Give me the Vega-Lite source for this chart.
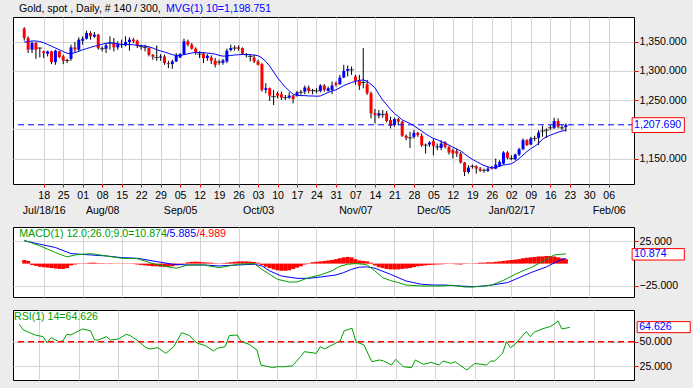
{
"$schema": "https://vega.github.io/schema/vega-lite/v6.json",
"background": "#ececec",
"padding": {"left": 11, "top": 3, "right": 5, "bottom": 8},
"spacing": 9,
"config": {
  "view": {"fill": "#ffffff", "stroke": "#000000", "strokeWidth": 1},
  "axis": {"labelFont": "Liberation Sans", "labelFontSize": 10.6, "labelColor": "#000000", "tickColor": "#ff0000", "gridColor": "#d4d4d4", "gridWidth": 1, "domain": false},
  "text": {"font": "Liberation Sans", "fontSize": 10.6}
},
"datasets": {
"ohlc": [
{"i":0,"o":1372.2,"h":1374.5,"l":1351.5,"c":1356.1},
{"i":1,"o":1356.1,"h":1359.0,"l":1330.4,"c":1336.1},
{"i":2,"o":1336.1,"h":1350.4,"l":1330.4,"c":1347.5},
{"i":3,"o":1347.5,"h":1349.3,"l":1320.6,"c":1336.1},
{"i":4,"o":1338.9,"h":1340.1,"l":1322.9,"c":1338.9},
{"i":5,"o":1333.2,"h":1334.4,"l":1321.8,"c":1330.4},
{"i":6,"o":1329.2,"h":1334.4,"l":1324.6,"c":1333.2},
{"i":7,"o":1333.2,"h":1334.4,"l":1311.5,"c":1314.9},
{"i":8,"o":1314.9,"h":1336.1,"l":1310.3,"c":1334.4},
{"i":9,"o":1333.2,"h":1334.4,"l":1321.8,"c":1323.5},
{"i":10,"o":1324.6,"h":1327.5,"l":1311.5,"c":1317.8},
{"i":11,"o":1317.8,"h":1320.6,"l":1313.2,"c":1317.8},
{"i":12,"o":1320.6,"h":1344.7,"l":1317.2,"c":1340.1},
{"i":13,"o":1340.1,"h":1349.3,"l":1332.1,"c":1336.7},
{"i":14,"o":1336.1,"h":1357.3,"l":1333.2,"c":1353.3},
{"i":15,"o":1351.5,"h":1359.0,"l":1344.7,"c":1355.0},
{"i":16,"o":1355.0,"h":1368.7,"l":1353.3,"c":1364.7},
{"i":17,"o":1364.7,"h":1367.6,"l":1353.3,"c":1359.0},
{"i":18,"o":1358.4,"h":1366.4,"l":1356.1,"c":1361.9},
{"i":19,"o":1361.9,"h":1363.0,"l":1336.1,"c":1338.9},
{"i":20,"o":1337.8,"h":1341.8,"l":1333.2,"c":1337.8},
{"i":21,"o":1337.8,"h":1347.5,"l":1330.4,"c":1343.5},
{"i":22,"o":1347.5,"h":1359.0,"l":1336.1,"c":1347.5},
{"i":23,"o":1347.5,"h":1356.1,"l":1333.2,"c":1340.1},
{"i":24,"o":1340.1,"h":1350.4,"l":1336.1,"c":1345.8},
{"i":25,"o":1344.7,"h":1353.3,"l":1338.9,"c":1344.7},
{"i":26,"o":1343.5,"h":1359.0,"l":1341.8,"c":1349.3},
{"i":27,"o":1349.3,"h":1357.3,"l":1334.4,"c":1353.3},
{"i":28,"o":1353.3,"h":1356.1,"l":1347.5,"c":1350.4},
{"i":29,"o":1351.5,"h":1353.3,"l":1338.9,"c":1343.5},
{"i":30,"o":1341.8,"h":1344.7,"l":1336.1,"c":1341.8},
{"i":31,"o":1340.1,"h":1344.7,"l":1333.2,"c":1340.1},
{"i":32,"o":1338.9,"h":1340.1,"l":1324.6,"c":1327.5},
{"i":33,"o":1327.5,"h":1328.6,"l":1318.9,"c":1324.1},
{"i":34,"o":1322.9,"h":1343.5,"l":1317.2,"c":1322.9},
{"i":35,"o":1322.9,"h":1328.6,"l":1317.2,"c":1324.6},
{"i":36,"o":1324.6,"h":1327.5,"l":1310.3,"c":1313.2},
{"i":37,"o":1313.2,"h":1317.2,"l":1304.6,"c":1311.5},
{"i":38,"o":1311.5,"h":1318.9,"l":1303.4,"c":1316.0},
{"i":39,"o":1316.0,"h":1330.4,"l":1314.9,"c":1326.3},
{"i":40,"o":1322.9,"h":1330.4,"l":1321.8,"c":1328.6},
{"i":41,"o":1328.6,"h":1355.0,"l":1327.5,"c":1350.4},
{"i":42,"o":1350.4,"h":1353.3,"l":1341.8,"c":1344.7},
{"i":43,"o":1344.7,"h":1347.5,"l":1336.1,"c":1337.8},
{"i":44,"o":1337.8,"h":1340.1,"l":1327.5,"c":1330.4},
{"i":45,"o":1328.6,"h":1333.2,"l":1321.8,"c":1328.6},
{"i":46,"o":1329.2,"h":1332.1,"l":1313.2,"c":1321.8},
{"i":47,"o":1321.8,"h":1328.6,"l":1317.2,"c":1325.8},
{"i":48,"o":1322.9,"h":1326.3,"l":1311.5,"c":1317.2},
{"i":49,"o":1317.2,"h":1321.8,"l":1305.7,"c":1310.3},
{"i":50,"o":1314.9,"h":1318.9,"l":1310.3,"c":1314.9},
{"i":51,"o":1313.7,"h":1320.6,"l":1310.3,"c":1317.8},
{"i":52,"o":1316.0,"h":1337.8,"l":1313.2,"c":1334.4},
{"i":53,"o":1335.5,"h":1344.7,"l":1333.2,"c":1338.9},
{"i":54,"o":1338.9,"h":1343.5,"l":1334.4,"c":1338.9},
{"i":55,"o":1340.1,"h":1343.5,"l":1334.4,"c":1337.8},
{"i":56,"o":1338.9,"h":1340.1,"l":1327.5,"c":1329.2},
{"i":57,"o":1327.5,"h":1330.4,"l":1322.9,"c":1327.5},
{"i":58,"o":1324.6,"h":1328.6,"l":1316.0,"c":1324.6},
{"i":59,"o":1322.9,"h":1327.5,"l":1313.2,"c":1316.0},
{"i":60,"o":1316.0,"h":1318.9,"l":1309.2,"c":1310.3},
{"i":61,"o":1311.5,"h":1313.2,"l":1264.5,"c":1267.4},
{"i":62,"o":1267.4,"h":1278.8,"l":1261.6,"c":1270.2},
{"i":63,"o":1270.2,"h":1271.4,"l":1248.5,"c":1257.6},
{"i":64,"o":1255.9,"h":1267.4,"l":1241.6,"c":1255.9},
{"i":65,"o":1261.6,"h":1264.5,"l":1253.0,"c":1257.6},
{"i":66,"o":1259.9,"h":1264.5,"l":1250.2,"c":1254.2},
{"i":67,"o":1254.2,"h":1258.8,"l":1250.2,"c":1254.2},
{"i":68,"o":1254.2,"h":1263.3,"l":1251.9,"c":1257.6},
{"i":69,"o":1257.6,"h":1258.8,"l":1244.4,"c":1251.9},
{"i":70,"o":1257.6,"h":1265.6,"l":1255.9,"c":1263.3},
{"i":71,"o":1263.3,"h":1267.4,"l":1258.8,"c":1263.3},
{"i":72,"o":1264.5,"h":1274.8,"l":1259.9,"c":1271.4},
{"i":73,"o":1271.4,"h":1274.8,"l":1261.6,"c":1265.6},
{"i":74,"o":1266.2,"h":1269.1,"l":1259.9,"c":1266.2},
{"i":75,"o":1265.6,"h":1270.2,"l":1261.6,"c":1265.6},
{"i":76,"o":1265.6,"h":1277.1,"l":1263.3,"c":1274.8},
{"i":77,"o":1274.8,"h":1277.1,"l":1264.5,"c":1267.4},
{"i":78,"o":1265.6,"h":1273.1,"l":1264.5,"c":1270.2},
{"i":79,"o":1267.4,"h":1281.7,"l":1259.9,"c":1274.8},
{"i":80,"o":1278.8,"h":1281.7,"l":1273.1,"c":1276.0},
{"i":81,"o":1277.1,"h":1293.1,"l":1276.0,"c":1288.5},
{"i":82,"o":1288.5,"h":1310.3,"l":1287.4,"c":1300.0},
{"i":83,"o":1300.0,"h":1309.2,"l":1290.3,"c":1302.9},
{"i":84,"o":1301.7,"h":1307.4,"l":1293.1,"c":1301.7},
{"i":85,"o":1290.3,"h":1293.1,"l":1276.0,"c":1282.8},
{"i":86,"o":1282.8,"h":1293.1,"l":1267.4,"c":1274.8},
{"i":87,"o":1280.0,"h":1338.9,"l":1270.2,"c":1280.0},
{"i":88,"o":1277.1,"h":1284.5,"l":1258.8,"c":1261.6},
{"i":89,"o":1261.6,"h":1264.5,"l":1218.7,"c":1227.3},
{"i":90,"o":1227.3,"h":1234.7,"l":1210.1,"c":1224.4},
{"i":91,"o":1223.3,"h":1233.0,"l":1218.7,"c":1227.3},
{"i":92,"o":1225.5,"h":1233.0,"l":1219.8,"c":1225.5},
{"i":93,"o":1227.3,"h":1231.3,"l":1211.8,"c":1214.1},
{"i":94,"o":1215.8,"h":1221.5,"l":1201.5,"c":1206.1},
{"i":95,"o":1207.2,"h":1219.8,"l":1204.4,"c":1217.5},
{"i":96,"o":1217.5,"h":1219.8,"l":1207.2,"c":1213.0},
{"i":97,"o":1213.0,"h":1214.1,"l":1187.2,"c":1188.9},
{"i":98,"o":1188.9,"h":1191.2,"l":1181.4,"c":1185.4},
{"i":99,"o":1185.4,"h":1195.8,"l":1168.3,"c":1185.4},
{"i":100,"o":1187.2,"h":1198.6,"l":1184.3,"c":1194.0},
{"i":101,"o":1194.0,"h":1195.8,"l":1187.2,"c":1190.0},
{"i":102,"o":1188.9,"h":1192.9,"l":1170.0,"c":1172.9},
{"i":103,"o":1172.9,"h":1175.7,"l":1158.5,"c":1172.9},
{"i":104,"o":1174.0,"h":1179.7,"l":1170.0,"c":1177.4},
{"i":105,"o":1179.7,"h":1184.3,"l":1155.6,"c":1171.7},
{"i":106,"o":1170.0,"h":1175.7,"l":1164.3,"c":1170.0},
{"i":107,"o":1168.3,"h":1181.4,"l":1164.3,"c":1175.7},
{"i":108,"o":1177.4,"h":1179.7,"l":1167.1,"c":1170.0},
{"i":109,"o":1170.0,"h":1171.7,"l":1156.8,"c":1160.3},
{"i":110,"o":1164.3,"h":1167.1,"l":1150.0,"c":1158.5},
{"i":111,"o":1162.6,"h":1167.1,"l":1152.8,"c":1158.5},
{"i":112,"o":1158.5,"h":1161.4,"l":1141.4,"c":1143.1},
{"i":113,"o":1143.1,"h":1144.2,"l":1120.2,"c":1127.0},
{"i":114,"o":1127.0,"h":1138.5,"l":1124.2,"c":1134.5},
{"i":115,"o":1136.8,"h":1139.6,"l":1132.8,"c":1136.8},
{"i":116,"o":1136.8,"h":1138.5,"l":1124.2,"c":1132.8},
{"i":117,"o":1132.8,"h":1135.6,"l":1127.0,"c":1129.9},
{"i":118,"o":1129.9,"h":1132.8,"l":1125.9,"c":1129.9},
{"i":119,"o":1129.3,"h":1135.6,"l":1127.0,"c":1132.8},
{"i":120,"o":1135.6,"h":1137.4,"l":1131.6,"c":1132.8},
{"i":121,"o":1132.8,"h":1150.0,"l":1131.6,"c":1139.6},
{"i":122,"o":1137.4,"h":1147.1,"l":1135.6,"c":1144.2},
{"i":123,"o":1141.4,"h":1162.6,"l":1139.6,"c":1160.3},
{"i":124,"o":1160.3,"h":1162.6,"l":1148.8,"c":1151.1},
{"i":125,"o":1150.0,"h":1155.6,"l":1147.1,"c":1150.0},
{"i":126,"o":1148.8,"h":1158.5,"l":1147.1,"c":1156.8},
{"i":127,"o":1156.8,"h":1168.3,"l":1154.5,"c":1166.0},
{"i":128,"o":1166.0,"h":1184.3,"l":1164.3,"c":1181.4},
{"i":129,"o":1181.4,"h":1183.2,"l":1171.7,"c":1172.9},
{"i":130,"o":1174.0,"h":1187.2,"l":1172.9,"c":1184.3},
{"i":131,"o":1184.3,"h":1188.9,"l":1179.7,"c":1184.3},
{"i":132,"o":1185.4,"h":1198.6,"l":1172.9,"c":1194.6},
{"i":133,"o":1196.9,"h":1206.1,"l":1187.2,"c":1196.9},
{"i":134,"o":1198.6,"h":1201.5,"l":1185.4,"c":1198.6},
{"i":135,"o":1202.6,"h":1207.2,"l":1198.6,"c":1202.6},
{"i":136,"o":1202.6,"h":1219.8,"l":1200.4,"c":1214.1},
{"i":137,"o":1214.1,"h":1218.7,"l":1201.5,"c":1204.4},
{"i":138,"o":1202.6,"h":1207.2,"l":1198.6,"c":1202.6},
{"i":139,"o":1203.8,"h":1210.1,"l":1195.8,"c":1207.69}
],
"ma": [
{"i":0,"v":1349},{"i":1,"v":1350},{"i":2,"v":1351},{"i":3,"v":1351},{"i":4,"v":1350},{"i":5,"v":1348},{"i":6,"v":1345},{"i":7,"v":1342},{"i":8,"v":1339},{"i":9,"v":1336},
{"i":10,"v":1333},{"i":11,"v":1330},{"i":12,"v":1329.5},{"i":13,"v":1331},{"i":14,"v":1333.5},{"i":15,"v":1336},{"i":16,"v":1338},{"i":17,"v":1340},{"i":18,"v":1342},{"i":19,"v":1343.5},
{"i":20,"v":1345.5},{"i":21,"v":1347},{"i":22,"v":1348},{"i":23,"v":1347.5},{"i":24,"v":1346},{"i":25,"v":1345},{"i":26,"v":1345},{"i":27,"v":1345},{"i":28,"v":1344.5},{"i":29,"v":1343.5},
{"i":30,"v":1343},{"i":31,"v":1342.4},{"i":32,"v":1341},{"i":33,"v":1339},{"i":34,"v":1336},{"i":35,"v":1334},{"i":36,"v":1332},{"i":37,"v":1330},{"i":38,"v":1327.5},{"i":39,"v":1326.3},
{"i":40,"v":1326.5},{"i":41,"v":1327.5},{"i":42,"v":1329},{"i":43,"v":1330.4},{"i":44,"v":1331.5},{"i":45,"v":1331.5},{"i":46,"v":1331},{"i":47,"v":1330.4},{"i":48,"v":1329.5},{"i":49,"v":1328.6},
{"i":50,"v":1326.5},{"i":51,"v":1325},{"i":52,"v":1325.5},{"i":53,"v":1326.3},{"i":54,"v":1327},{"i":55,"v":1327.5},{"i":56,"v":1328},{"i":57,"v":1328},{"i":58,"v":1327.5},{"i":59,"v":1327},
{"i":60,"v":1325.8},{"i":61,"v":1322},{"i":62,"v":1316},{"i":63,"v":1308},{"i":64,"v":1298},{"i":65,"v":1288},{"i":66,"v":1280},{"i":67,"v":1272},{"i":68,"v":1266},{"i":69,"v":1260},
{"i":70,"v":1258},{"i":71,"v":1257.6},{"i":72,"v":1257.6},{"i":73,"v":1257},{"i":74,"v":1257},{"i":75,"v":1256.5},{"i":76,"v":1257},{"i":77,"v":1260},{"i":78,"v":1263},{"i":79,"v":1265.5},
{"i":80,"v":1267.4},{"i":81,"v":1271},{"i":82,"v":1274.8},{"i":83,"v":1277.5},{"i":84,"v":1280},{"i":85,"v":1282},{"i":86,"v":1283.5},{"i":87,"v":1284.5},{"i":88,"v":1282},{"i":89,"v":1277},
{"i":90,"v":1271},{"i":91,"v":1260},{"i":92,"v":1250},{"i":93,"v":1242},{"i":94,"v":1234},{"i":95,"v":1227},{"i":96,"v":1222},{"i":97,"v":1216},{"i":98,"v":1213},{"i":99,"v":1210},
{"i":100,"v":1206},{"i":101,"v":1201.5},{"i":102,"v":1197},{"i":103,"v":1192.3},{"i":104,"v":1188},{"i":105,"v":1184.5},{"i":106,"v":1182},{"i":107,"v":1179},{"i":108,"v":1176.5},{"i":109,"v":1173},
{"i":110,"v":1169.5},{"i":111,"v":1166},{"i":112,"v":1163},{"i":113,"v":1158},{"i":114,"v":1153},{"i":115,"v":1148.8},{"i":116,"v":1145},{"i":117,"v":1141.4},{"i":118,"v":1138},{"i":119,"v":1136},
{"i":120,"v":1134},{"i":121,"v":1134.5},{"i":122,"v":1137},{"i":123,"v":1139},{"i":124,"v":1140},{"i":125,"v":1141},{"i":126,"v":1145},{"i":127,"v":1150},{"i":128,"v":1156},{"i":129,"v":1162},
{"i":130,"v":1167},{"i":131,"v":1171},{"i":132,"v":1176},{"i":133,"v":1183},{"i":134,"v":1187},{"i":135,"v":1190},{"i":136,"v":1192.5},{"i":137,"v":1195},{"i":138,"v":1197},{"i":139,"v":1198.751}
],
"hist": [
{"i":0,"v":4},{"i":1,"v":3},{"i":2,"v":-1.5},{"i":3,"v":-2.5},{"i":4,"v":-3.5},{"i":5,"v":-4},{"i":6,"v":-4.5},{"i":7,"v":-5},{"i":8,"v":-5.5},{"i":9,"v":-6},
{"i":10,"v":-6},{"i":11,"v":-5},{"i":12,"v":-2},{"i":13,"v":-1},{"i":14,"v":-0.5},{"i":15,"v":0.3},{"i":16,"v":0.5},{"i":17,"v":1},{"i":18,"v":1},{"i":19,"v":0.5},
{"i":20,"v":0.5},{"i":21,"v":0.3},{"i":22,"v":-0.5},{"i":23,"v":-0.3},{"i":24,"v":0.3},{"i":25,"v":0.3},{"i":26,"v":0.3},{"i":27,"v":-0.3},{"i":28,"v":-0.5},{"i":29,"v":-1},
{"i":30,"v":-1.5},{"i":31,"v":-2},{"i":32,"v":-2.5},{"i":33,"v":-3},{"i":34,"v":-3},{"i":35,"v":-3.5},{"i":36,"v":-3.5},{"i":37,"v":-3.5},{"i":38,"v":-3},{"i":39,"v":-2},
{"i":40,"v":-1},{"i":41,"v":0.5},{"i":42,"v":1.5},{"i":43,"v":2},{"i":44,"v":2.2},{"i":45,"v":2},{"i":46,"v":1.5},{"i":47,"v":1.2},{"i":48,"v":1},{"i":49,"v":0.5},
{"i":50,"v":0.3},{"i":51,"v":0.5},{"i":52,"v":1},{"i":53,"v":1.5},{"i":54,"v":2},{"i":55,"v":2.5},{"i":56,"v":2.5},{"i":57,"v":2.5},{"i":58,"v":2.2},{"i":59,"v":1.8},
{"i":60,"v":1},{"i":61,"v":-1.5},{"i":62,"v":-3.5},{"i":63,"v":-5},{"i":64,"v":-6.5},{"i":65,"v":-7.5},{"i":66,"v":-8},{"i":67,"v":-8},{"i":68,"v":-7.5},{"i":69,"v":-6},
{"i":70,"v":-4.5},{"i":71,"v":-3},{"i":72,"v":-1},{"i":73,"v":0.5},{"i":74,"v":1.5},{"i":75,"v":2},{"i":76,"v":2.5},{"i":77,"v":3},{"i":78,"v":3.5},{"i":79,"v":4},
{"i":80,"v":5},{"i":81,"v":6},{"i":82,"v":7},{"i":83,"v":7.5},{"i":84,"v":7},{"i":85,"v":5},{"i":86,"v":3.5},{"i":87,"v":3},{"i":88,"v":2.5},{"i":89,"v":1},
{"i":90,"v":-2},{"i":91,"v":-4},{"i":92,"v":-5},{"i":93,"v":-6},{"i":94,"v":-6.5},{"i":95,"v":-6.5},{"i":96,"v":-6.5},{"i":97,"v":-6},{"i":98,"v":-5.5},{"i":99,"v":-5},
{"i":100,"v":-4},{"i":101,"v":-3},{"i":102,"v":-2.5},{"i":103,"v":-2},{"i":104,"v":-1.5},{"i":105,"v":-1.2},{"i":106,"v":-1},{"i":107,"v":-0.8},{"i":108,"v":-0.5},{"i":109,"v":-0.3},
{"i":110,"v":-0.5},{"i":111,"v":-0.8},{"i":112,"v":-1},{"i":113,"v":-0.5},{"i":114,"v":-0.3},{"i":115,"v":0.3},{"i":116,"v":0.5},{"i":117,"v":1},{"i":118,"v":1},{"i":119,"v":1.5},
{"i":120,"v":1.5},{"i":121,"v":2},{"i":122,"v":2.5},{"i":123,"v":3},{"i":124,"v":3.5},{"i":125,"v":4},{"i":126,"v":4.5},{"i":127,"v":5},{"i":128,"v":6},{"i":129,"v":6.5},
{"i":130,"v":7},{"i":131,"v":7.5},{"i":132,"v":8},{"i":133,"v":8},{"i":134,"v":8.5},{"i":135,"v":8.5},{"i":136,"v":8},{"i":137,"v":7},{"i":138,"v":6},{"i":139,"v":4.989}
],
"macd": [
{"i":0,"v":26.2},{"i":4,"v":19.9},{"i":8,"v":12.4},{"i":11,"v":7.5},{"i":13,"v":9.7},{"i":17,"v":11.2},{"i":21,"v":8.6},{"i":25,"v":6},{"i":29,"v":5.6},{"i":33,"v":0},
{"i":36,"v":-3},{"i":38,"v":-4.5},{"i":39,"v":-5.2},{"i":42,"v":-1.5},{"i":46,"v":-1.5},{"i":50,"v":-4.5},{"i":55,"v":-0.7},{"i":59,"v":0},{"i":61,"v":-6.4},{"i":63,"v":-12},
{"i":65,"v":-17.6},{"i":68,"v":-20.6},{"i":70,"v":-20.6},{"i":73,"v":-15.7},{"i":76,"v":-12.7},{"i":79,"v":-8},{"i":81,"v":-3},{"i":83,"v":-0.7},{"i":85,"v":0},{"i":87,"v":-0.7},
{"i":88,"v":-1.5},{"i":90,"v":-8.2},{"i":92,"v":-15.7},{"i":94,"v":-19},{"i":96,"v":-21.3},{"i":98,"v":-24},{"i":102,"v":-25.1},{"i":107,"v":-25.1},{"i":110,"v":-24.3},{"i":113,"v":-26.2},
{"i":115,"v":-26.2},{"i":118,"v":-25.1},{"i":120,"v":-24},{"i":123,"v":-18.7},{"i":126,"v":-12},{"i":128,"v":-8},{"i":130,"v":-4.5},{"i":132,"v":0},{"i":134,"v":4.9},{"i":136,"v":9.7},{"i":139,"v":10.874}
],
"sig": [
{"i":0,"v":25.5},{"i":4,"v":21.7},{"i":8,"v":18},{"i":12,"v":11.2},{"i":17,"v":9.7},{"i":21,"v":8.6},{"i":25,"v":6.7},{"i":29,"v":6},{"i":33,"v":3},{"i":38,"v":-0.7},
{"i":42,"v":-1.5},{"i":46,"v":-1.5},{"i":50,"v":-2.6},{"i":55,"v":-1.5},{"i":59,"v":-0.7},{"i":61,"v":-2.6},{"i":63,"v":-8.2},{"i":66,"v":-13.9},{"i":70,"v":-16.5},{"i":73,"v":-16.5},
{"i":76,"v":-15},{"i":80,"v":-12.7},{"i":82,"v":-10},{"i":84,"v":-6.4},{"i":86,"v":-4},{"i":88,"v":-3.7},{"i":90,"v":-5.2},{"i":94,"v":-12},{"i":98,"v":-19.5},{"i":102,"v":-23.2},
{"i":105,"v":-24},{"i":108,"v":-24},{"i":112,"v":-25.1},{"i":115,"v":-25.8},{"i":118,"v":-25.1},{"i":120,"v":-24},{"i":124,"v":-21.3},{"i":127,"v":-15.7},{"i":130,"v":-10.1},{"i":134,"v":-3.7},
{"i":137,"v":3},{"i":139,"v":5.885}
],
"rsi": [
{"i":0,"v":67.8},{"i":1,"v":62},{"i":2,"v":60.3},{"i":4,"v":56.8},{"i":6,"v":55.1},{"i":7,"v":49},{"i":8,"v":54.1},{"i":10,"v":50},{"i":11,"v":50.7},{"i":12,"v":57.5},
{"i":13,"v":56.8},{"i":15,"v":61},{"i":16,"v":63},{"i":18,"v":61},{"i":19,"v":51.7},{"i":20,"v":51.7},{"i":22,"v":55.1},{"i":23,"v":51.7},{"i":25,"v":52.7},{"i":27,"v":57.5},
{"i":28,"v":56.2},{"i":30,"v":50.7},{"i":32,"v":43.8},{"i":33,"v":42.5},{"i":35,"v":43.8},{"i":37,"v":38},{"i":39,"v":44.9},{"i":41,"v":59.2},{"i":43,"v":56.2},{"i":44,"v":51.7},
{"i":45,"v":48.3},{"i":47,"v":45.9},{"i":49,"v":40.4},{"i":50,"v":43.2},{"i":52,"v":44.9},{"i":53,"v":56.2},{"i":55,"v":56.8},{"i":56,"v":50},{"i":58,"v":47.3},{"i":60,"v":41.4},
{"i":61,"v":26},{"i":63,"v":24.3},{"i":64,"v":23.3},{"i":65,"v":24.3},{"i":67,"v":24.3},{"i":69,"v":25.3},{"i":71,"v":34.6},{"i":72,"v":39.7},{"i":75,"v":38},{"i":76,"v":44.9},
{"i":77,"v":42.5},{"i":79,"v":46.6},{"i":81,"v":50.7},{"i":82,"v":61},{"i":84,"v":63.7},{"i":85,"v":50},{"i":87,"v":46.6},{"i":89,"v":29.5},{"i":91,"v":31.2},{"i":92,"v":30.1},
{"i":94,"v":26},{"i":95,"v":31.8},{"i":97,"v":24.3},{"i":99,"v":23.3},{"i":100,"v":31.2},{"i":102,"v":26.7},{"i":104,"v":28.8},{"i":106,"v":26},{"i":107,"v":30.1},{"i":109,"v":27.7},
{"i":110,"v":29.5},{"i":113,"v":20.9},{"i":115,"v":27.7},{"i":118,"v":26},{"i":119,"v":30.1},{"i":120,"v":30.1},{"i":122,"v":38},{"i":123,"v":50},{"i":124,"v":43.8},{"i":125,"v":46.6},
{"i":128,"v":60.3},{"i":129,"v":55.1},{"i":130,"v":59.6},{"i":132,"v":63},{"i":134,"v":65.4},{"i":135,"v":67.8},{"i":136,"v":71.2},{"i":137,"v":63},{"i":139,"v":64.626}
]
},
"vconcat": [
{
 "width": 621, "height": 167,
 "resolve": {"axis": {"x": "independent"}},
 "layer": [
  {"data": {"values": [{}]}, "mark": {"type": "rule", "color": "#d4d4d4", "strokeWidth": 1},
   "encoding": {"y": {"datum": 1200, "scale": {"domain": [1106.5, 1392], "nice": false, "zero": false}}}},
  {"data": {"name": "ohlc"}, "mark": {"type": "rule", "color": "#000000", "strokeWidth": 1},
   "encoding": {
    "x": {"field": "i", "type": "quantitative", "title": null, "scale": {"domain": [-1.6, 155.2], "nice": false, "zero": false},
      "axis": {"orient": "bottom", "values": [5,10,15,20,25,30,35,40,45,50,55,60,65,70,75,80,85,90,95,100,105,110,115,120,125,130,135,140,145,150], "grid": true, "ticks": true, "tickSize": 3, "labelPadding": 3, "labelOverlap": false, "labelFlush": false,
        "labelExpr": "timeFormat(datetime(2016, 6, 11 + floor(datum.value / 5) * 7), '%d')"}},
    "y": {"field": "l", "type": "quantitative", "title": null, "scale": {"domain": [1106.5, 1392], "nice": false, "zero": false},
      "axis": {"orient": "right", "values": [1150, 1250, 1300, 1350], "format": ",.3f", "grid": true, "tickSize": 4, "labelPadding": 1}},
    "y2": {"field": "h"}
   }},
  {"data": {"name": "ohlc"}, "mark": {"type": "bar", "size": 3},
   "encoding": {
    "x": {"field": "i", "type": "quantitative", "title": null, "axis": null},
    "y": {"field": "o", "type": "quantitative", "title": null},
    "y2": {"field": "c"},
    "color": {"condition": {"test": "datum.c > datum.o", "value": "#0000ff"}, "value": "#ff0000"}
   }},
  {"data": {"name": "ohlc"}, "transform": [{"filter": "datum.o == datum.c"}],
   "mark": {"type": "tick", "orient": "horizontal", "size": 5, "thickness": 1, "color": "#000000"},
   "encoding": {
    "x": {"field": "i", "type": "quantitative", "title": null, "axis": null},
    "y": {"field": "o", "type": "quantitative", "title": null}
   }},
  {"data": {"name": "ma"}, "mark": {"type": "line", "color": "#0000ff", "strokeWidth": 1},
   "encoding": {
    "x": {"field": "i", "type": "quantitative", "title": null,
      "axis": {"orient": "bottom", "values": [5, 20, 40, 60, 85, 105, 125, 150], "grid": false, "ticks": false, "tickSize": 0, "labelPadding": 21, "labelOverlap": false, "labelFlush": false,
        "labelExpr": "datum.value == 5 ? 'Jul/18/16' : datum.value == 20 ? 'Aug/08' : datum.value == 40 ? 'Sep/05' : datum.value == 60 ? 'Oct/03' : datum.value == 85 ? 'Nov/07' : datum.value == 105 ? 'Dec/05' : datum.value == 125 ? 'Jan/02/17' : 'Feb/06'"}},
    "y": {"field": "v", "type": "quantitative", "title": null}
   }},
  {"data": {"values": [{}]}, "mark": {"type": "rule", "color": "#0000ff", "strokeWidth": 1, "strokeDash": [6, 4]},
   "encoding": {"y": {"datum": 1207.69}}},
  {"data": {"values": [{}]}, "mark": {"type": "rect", "fill": "#ffffff", "stroke": "#ff0000", "strokeWidth": 1},
   "encoding": {"x": {"datum": 156.0, "axis": null}, "x2": {"datum": 169.4}, "y": {"datum": 1194.5}, "y2": {"datum": 1219.8}}},
  {"data": {"values": [{}]}, "mark": {"type": "text", "text": "1,207.690", "color": "#0000ff", "align": "left", "baseline": "middle", "dx": 2},
   "encoding": {"x": {"datum": 156.0, "axis": null}, "y": {"datum": 1207.2}}},
  {"data": {"values": [{}]}, "mark": {"type": "text", "text": "Gold, spot , Daily, # 140 / 300,", "color": "#000000", "align": "left", "baseline": "middle", "dx": 1, "dy": -7.7},
   "encoding": {"x": {"datum": -1.6, "axis": null}, "y": {"datum": 1392}}},
  {"data": {"values": [{}]}, "mark": {"type": "text", "text": "MVG(1) 10=1,198.751", "color": "#0000ff", "align": "left", "baseline": "middle", "dx": 148, "dy": -7.7},
   "encoding": {"x": {"datum": -1.6, "axis": null}, "y": {"datum": 1392}}}
 ]
},
{
 "spacing": 11,
 "vconcat": [
 {
  "width": 621, "height": 70,
  "layer": [
   {"data": {"name": "hist"}, "mark": {"type": "bar", "size": 4, "color": "#ff0000"},
    "encoding": {
     "x": {"field": "i", "type": "quantitative", "title": null, "scale": {"domain": [-1.6, 155.2], "nice": false, "zero": false},
       "axis": {"values": [5,10,15,20,25,30,35,40,45,50,55,60,65,70,75,80,85,90,95,100,105,110,115,120,125,130,135,140,145,150], "grid": true, "ticks": false, "labels": false}},
     "y": {"field": "v", "type": "quantitative", "title": null, "scale": {"domain": [-37.4, 41], "nice": false, "zero": false},
       "axis": {"orient": "right", "values": [-25, 0, 25], "format": ".3f", "grid": true, "tickSize": 4, "labelPadding": 1}},
     "y2": {"datum": 0}
    }},
   {"data": {"name": "sig"}, "mark": {"type": "line", "color": "#0000ff", "strokeWidth": 1},
    "encoding": {
     "x": {"field": "i", "type": "quantitative", "title": null},
     "y": {"field": "v", "type": "quantitative", "title": null}
    }},
   {"data": {"name": "macd"}, "mark": {"type": "line", "color": "#00a000", "strokeWidth": 1},
    "encoding": {
     "x": {"field": "i", "type": "quantitative", "title": null},
     "y": {"field": "v", "type": "quantitative", "title": null}
    }},
   {"data": {"values": [{}]}, "mark": {"type": "rect", "fill": "#ffffff", "stroke": "#ff0000", "strokeWidth": 1},
    "encoding": {"x": {"datum": 156.0}, "x2": {"datum": 169.4}, "y": {"datum": 4.0}, "y2": {"datum": 16.8}}},
   {"data": {"values": [{}]}, "mark": {"type": "text", "text": "10.874", "color": "#0000ff", "align": "left", "baseline": "middle", "dx": 2},
    "encoding": {"x": {"datum": 156.0}, "y": {"datum": 10.4}}},
   {"data": {"values": [{}]}, "mark": {"type": "text", "text": "MACD(1) 12.0;26.0;9.0=10.874", "color": "#00a000", "align": "left", "baseline": "top", "dx": 1.3, "dy": 2},
    "encoding": {"x": {"datum": -1.6}, "y": {"datum": 41}}},
   {"data": {"values": [{}]}, "mark": {"type": "text", "text": "/5.885", "color": "#0000ff", "align": "left", "baseline": "top", "dx": 148.6, "dy": 2},
    "encoding": {"x": {"datum": -1.6}, "y": {"datum": 41}}},
   {"data": {"values": [{}]}, "mark": {"type": "text", "text": "/4.989", "color": "#ff0000", "align": "left", "baseline": "top", "dx": 178.5, "dy": 2},
    "encoding": {"x": {"datum": -1.6}, "y": {"datum": 41}}}
  ]
 },
 {
  "width": 621, "height": 70,
  "layer": [
   {"data": {"name": "rsi"}, "mark": {"type": "line", "color": "#00a000", "strokeWidth": 1},
    "encoding": {
     "x": {"field": "i", "type": "quantitative", "title": null, "scale": {"domain": [-1.6, 155.2], "nice": false, "zero": false},
       "axis": {"values": [5,10,15,20,25,30,35,40,45,50,55,60,65,70,75,80,85,90,95,100,105,110,115,120,125,130,135,140,145,150], "grid": true, "ticks": false, "labels": false}},
     "y": {"field": "v", "type": "quantitative", "title": null, "scale": {"domain": [10.7, 82.4], "nice": false, "zero": false},
       "axis": {"orient": "right", "values": [25, 50], "format": ".3f", "grid": true, "tickSize": 4, "labelPadding": 1}}
    }},
   {"data": {"values": [{}]}, "mark": {"type": "rule", "color": "#ff0000", "strokeWidth": 1.5, "strokeDash": [6, 4]},
    "encoding": {"y": {"datum": 50}}},
   {"data": {"values": [{}]}, "mark": {"type": "rect", "fill": "#ffffff", "stroke": "#ff0000", "strokeWidth": 1},
    "encoding": {"x": {"datum": 156.0}, "x2": {"datum": 169.4}, "y": {"datum": 59.2}, "y2": {"datum": 70.5}}},
   {"data": {"values": [{}]}, "mark": {"type": "text", "text": "64.626", "color": "#0000ff", "align": "left", "baseline": "middle", "dx": 2},
    "encoding": {"x": {"datum": 156.0}, "y": {"datum": 64.9}}},
   {"data": {"values": [{}]}, "mark": {"type": "text", "text": "RSI(1) 14=64.626", "color": "#00a000", "align": "left", "baseline": "top", "dx": 1, "dy": 1.5},
    "encoding": {"x": {"datum": -1.6}, "y": {"datum": 82.4}}}
  ]
 }
 ]
}
]
}
